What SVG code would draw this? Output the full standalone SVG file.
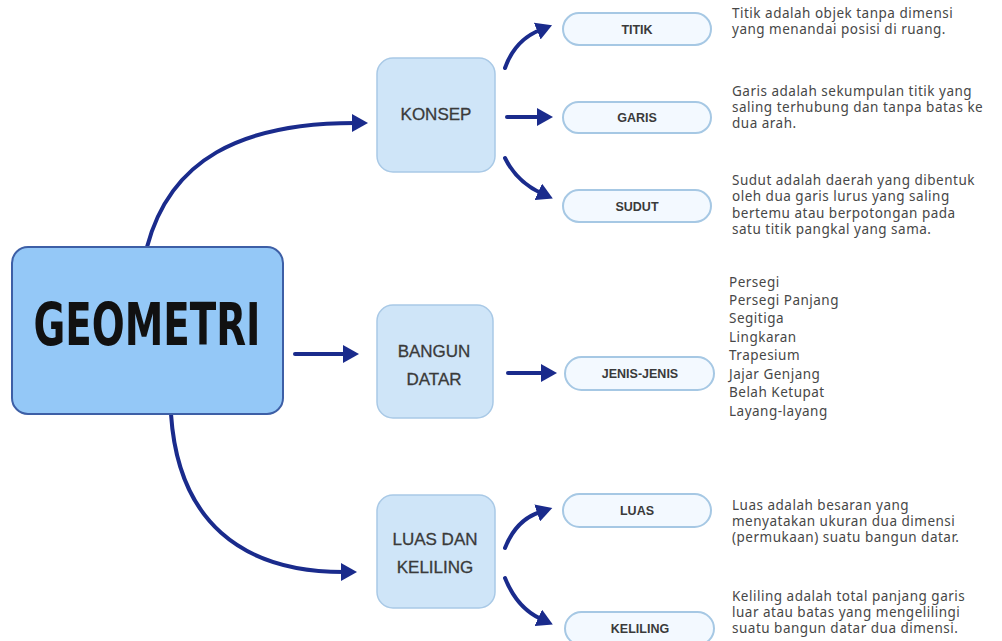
<svg xmlns="http://www.w3.org/2000/svg" width="1002" height="641" viewBox="0 0 1002 641">
<defs>
<style>
.main{fill:#94c8f7;stroke:#3d5fa6;stroke-width:2}
.sub{fill:#cfe5f8;stroke:#a9c9e6;stroke-width:1.5}
.pill{fill:#f3f9ff;stroke:#a6c8e4;stroke-width:2}
.lbl{font-family:"Liberation Sans",Arial,sans-serif;font-size:17px;fill:#3a3a3a;stroke:#3a3a3a;stroke-width:0.3;text-anchor:middle}
.plbl{font-family:"Liberation Sans",Arial,sans-serif;font-size:12.5px;font-weight:bold;fill:#3a3a3a;text-anchor:middle}
.desc{font-family:"Noto Sans","Open Sans",sans-serif;font-size:13.5px;letter-spacing:0.5px;fill:#474747}
.conn path{fill:none;stroke:#1a2b8c;stroke-width:4;stroke-linecap:round;marker-end:url(#ah)}
</style>
<marker id="ah" markerUnits="userSpaceOnUse" markerWidth="17" markerHeight="18" viewBox="0 0 17 18" refX="3" refY="9" orient="auto">
<path d="M0,0 L16,9 L0,18 z" fill="#1a2b8c"/>
</marker>
</defs>
<rect width="1002" height="641" fill="#ffffff"/>
<g id="connectors" class="conn">
<path d="M147,247 C170,160 240,123 355,123"/>
<path d="M295,354 L346,354"/>
<path d="M171,414 C178,520 240,572 344,572"/>
<path d="M505,68 Q515,40 540,30"/>
<path d="M507,117 L540,117"/>
<path d="M505,158 Q517,182 541,193"/>
<path d="M508,373 L544,373"/>
<path d="M505,548 Q516,520 540,512"/>
<path d="M505,578 Q517,608 541,619"/>
</g>
<g id="geometri">
<rect class="main" x="12" y="247" width="271" height="167" rx="16"/>
<text x="147" y="345" font-family="DejaVu Sans Condensed,DejaVu Sans,sans-serif" font-weight="bold" font-size="58" fill="#111" text-anchor="middle" textLength="227" lengthAdjust="spacingAndGlyphs">GEOMETRI</text>
</g>
<g id="konsep">
<rect class="sub" x="377" y="58" width="118" height="114" rx="16"/>
<text class="lbl" x="436" y="120">KONSEP</text>
</g>
<g id="bangun-datar">
<rect class="sub" x="377" y="305" width="116" height="113" rx="16"/>
<text class="lbl" x="434" y="357">BANGUN</text>
<text class="lbl" x="434" y="385">DATAR</text>
</g>
<g id="luas-dan-keliling">
<rect class="sub" x="377" y="495" width="118" height="113" rx="16"/>
<text class="lbl" x="435" y="545">LUAS DAN</text>
<text class="lbl" x="435" y="573">KELILING</text>
</g>
<g id="titik">
<rect class="pill" x="563" y="13" width="148" height="32" rx="16"/>
<text class="plbl" x="637" y="34">TITIK</text>
</g>
<g id="garis">
<rect class="pill" x="563" y="102" width="148" height="31" rx="15.5"/>
<text class="plbl" x="637" y="122">GARIS</text>
</g>
<g id="sudut">
<rect class="pill" x="563" y="190" width="148" height="32" rx="16"/>
<text class="plbl" x="637" y="211">SUDUT</text>
</g>
<g id="jenis-jenis">
<rect class="pill" x="565" y="357" width="149" height="33" rx="16.5"/>
<text class="plbl" x="640" y="378">JENIS-JENIS</text>
</g>
<g id="luas">
<rect class="pill" x="563" y="494" width="148" height="33" rx="16.5"/>
<text class="plbl" x="637" y="515">LUAS</text>
</g>
<g id="keliling">
<rect class="pill" x="565" y="612" width="149" height="33" rx="16.5"/>
<text class="plbl" x="640" y="633">KELILING</text>
</g>
<g id="descriptions" class="desc">
<text x="732" y="18">Titik adalah objek tanpa dimensi</text>
<text x="732" y="34">yang menandai posisi di ruang.</text>
<text x="732" y="96">Garis adalah sekumpulan titik yang</text>
<text x="732" y="112">saling terhubung dan tanpa batas ke</text>
<text x="732" y="128">dua arah.</text>
<text x="732" y="185">Sudut adalah daerah yang dibentuk</text>
<text x="732" y="201">oleh dua garis lurus yang saling</text>
<text x="732" y="218">bertemu atau berpotongan pada</text>
<text x="732" y="234">satu titik pangkal yang sama.</text>
<text x="729" y="287">Persegi</text>
<text x="729" y="305">Persegi Panjang</text>
<text x="729" y="323">Segitiga</text>
<text x="729" y="342">Lingkaran</text>
<text x="729" y="360">Trapesium</text>
<text x="729" y="379">Jajar Genjang</text>
<text x="729" y="397">Belah Ketupat</text>
<text x="729" y="416">Layang-layang</text>
<text x="732" y="510">Luas adalah besaran yang</text>
<text x="732" y="526">menyatakan ukuran dua dimensi</text>
<text x="732" y="542">(permukaan) suatu bangun datar.</text>
<text x="732" y="601">Keliling adalah total panjang garis</text>
<text x="732" y="617">luar atau batas yang mengelilingi</text>
<text x="732" y="633">suatu bangun datar dua dimensi.</text>
</g>
</svg>
